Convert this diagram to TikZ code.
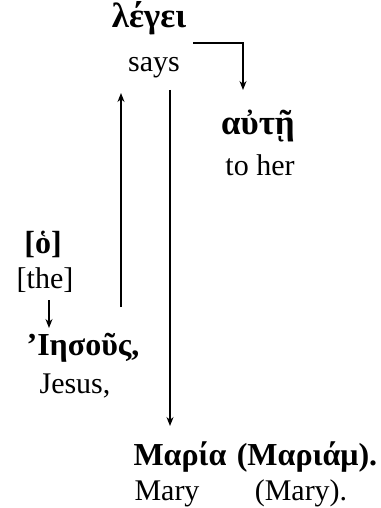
\documentclass[tikz,border=0pt]{standalone}
\usepackage{fontspec}
\setmainfont{Liberation Serif}
\newfontfamily\grk{Liberation Serif}
\usetikzlibrary{arrows.meta}
\begin{document}
\begin{tikzpicture}[x=1pt,y=-1pt,
  gk/.style={font=\fontsize{32}{36}\selectfont\grk\bfseries, anchor=base, inner sep=0pt},
  gkl/.style={font=\fontsize{35}{38}\selectfont\grk\bfseries, anchor=base, inner sep=0pt},
  en/.style={font=\fontsize{30}{34}\selectfont, anchor=base, inner sep=0pt},
  arr/.style={line width=1.3pt, -{Stealth[length=9pt,width=7pt]}}]
\useasboundingbox (0,0) rectangle (380,508);
\node[gkl] (lego) at (149,28) {λέγει};
\node[en] (says) at (154,72) {says};
\node[gkl] (aute) at (258,135) {αὐτῇ};
\node[en] (toher) at (260,175) {to her};
\node[gk] (ho) at (43,253) {[ὁ]};
\node[en] (the) at (45,288) {[the]};
\node[gk] (iesous) at (83,355) {’Ιησοῦς,};
\node[en] (jesus) at (75,393) {Jesus,};
\node[gk] (maria) at (180,465) {Μαρία};
\node[gk] (mariam) at (307,465) {(Μαριάμ).};
\node[en] (mary) at (167,500) {Mary};
\node[en] (mary2) at (301,500) {(Mary).};
\coordinate (c1) at (193,43);
\coordinate (c2) at (243,43);
\coordinate (c3) at (243,90);
\draw[arr] (c1) -- (c2) -- (c3);
\coordinate (u1) at (121,307);
\coordinate (u2) at (121,93);
\draw[arr] (u1) -- (u2);
\coordinate (d1) at (170,90);
\coordinate (d2) at (170,426);
\draw[arr] (d1) -- (d2);
\coordinate (s1) at (49,300);
\coordinate (s2) at (49,328);
\draw[arr] (s1) -- (s2);
\end{tikzpicture}
\end{document}
